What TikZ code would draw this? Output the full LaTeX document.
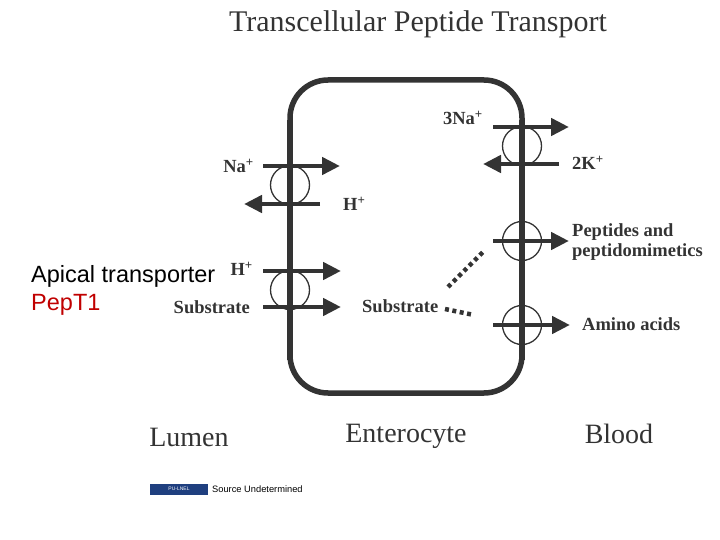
\documentclass[tikz,border=0pt]{standalone}
\usepackage{fontspec}
\setmainfont{Liberation Serif}
\newfontfamily\arialfont{Liberation Sans}
\usetikzlibrary{arrows.meta}
\definecolor{ink}{HTML}{333333}
\definecolor{pepred}{HTML}{C00000}
\definecolor{logoblue}{HTML}{1F3F7F}

\tikzset{
	memb/.style={draw=ink, line width=5.5pt},
	carrier/.style={draw=ink, circle, line width=1.3pt, minimum size=39pt, inner sep=0pt},
	flux/.style={draw=ink, line width=4.5pt, -{Triangle[length=18pt,width=17pt]}},
	lab/.style={text=ink, inner sep=0pt, font=\bfseries\fontsize{18.5}{20}\selectfont},
	region/.style={text=ink, inner sep=0pt, font=\fontsize{28}{30}\selectfont},
	trail/.style={draw=ink, line width=4.5pt, dash pattern=on 4pt off 3.5pt},
}

\begin{document}
\begin{tikzpicture}[x=1pt, y=-1pt]
		\useasboundingbox (0,0) rectangle (720,540);
		
		\node[region, font=\fontsize{30}{32}\selectfont] (title) at (418,24) {Transcellular Peptide Transport};
		
		% cell
		\draw[memb, rounded corners=38pt] (290,80) rectangle (522,393);
		
		% Na/H exchanger
		\node[carrier] (nhe) at (290,185) {};
		\coordinate (nheA) at (263,166);
		\coordinate (nheB) at (340,166);
		\coordinate (nheC) at (320,204);
		\coordinate (nheD) at (244,204);
		\node[lab, anchor=east] (na) at (254,166) {Na\textsuperscript{+}};
		\node[lab, anchor=west] (hout) at (343,204) {H\textsuperscript{+}};
		
		% PepT1
		\node[carrier] (pept) at (290,290) {};
		\coordinate (peptA) at (263,271);
		\coordinate (peptB) at (341,271);
		\coordinate (peptC) at (263,307);
		\coordinate (peptD) at (341,307);
		\node[lab, anchor=east] (hin) at (253,269) {H\textsuperscript{+}};
		\node[lab, anchor=east] (subin) at (250,307) {Substrate};
		\node[lab, anchor=west] (sub) at (362,306) {Substrate};
		
		% Na/K pump
		\node[carrier] (pump) at (522,146) {};
		\coordinate (pumpA) at (493,127);
		\coordinate (pumpB) at (569,127);
		\coordinate (pumpC) at (559,164);
		\coordinate (pumpD) at (483,164);
		\node[lab, anchor=east] (nak) at (483,118) {3Na\textsuperscript{+}};
		\node[lab, anchor=west] (kk) at (572,163) {2K\textsuperscript{+}};
		
		% basolateral exits
		\node[carrier] (pepb) at (522,241) {};
		\coordinate (pepbA) at (493,241);
		\coordinate (pepbB) at (569,241);
		\node[lab, anchor=west, align=left] (peps) at (572,242) {Peptides and\\peptidomimetics};
		
		\node[carrier] (amin) at (522,325) {};
		\coordinate (aminA) at (493,325);
		\coordinate (aminB) at (570,325);
		\node[lab, anchor=west] (aa) at (582,324) {Amino acids};
		
		\coordinate (subU) at (448,287);
		\coordinate (pepU) at (484,251);
		\coordinate (subL) at (445,309);
		\coordinate (aaL) at (474,315);
		
		\path []
		(nheA) edge[flux] (nheB)
		(nheC) edge[flux] (nheD)
		(peptA) edge[flux] (peptB)
		(peptC) edge[flux] (peptD)
		(pumpA) edge[flux] (pumpB)
		(pumpC) edge[flux] (pumpD)
		(pepbA) edge[flux] (pepbB)
		(aminA) edge[flux] (aminB)
		(subU) edge[trail] (pepU)
		(subL) edge[trail] (aaL);
		
		\draw[memb] (290,120) -- (290,360);
		\draw[memb] (522,120) -- (522,360);
		
		\node[region] (lumen) at (189,437) {Lumen};
		\node[region] (entero) at (406,436) {Enterocyte};
		\node[region] (blood) at (619,434) {Blood};
		
		\node[anchor=west, inner sep=0pt, font=\arialfont\fontsize{23.5}{25}\selectfont] (apical) at (31,276) {Apical transporter};
		\node[anchor=west, inner sep=0pt, text=pepred, font=\arialfont\fontsize{23.5}{25}\selectfont] (pep1) at (31,305) {PepT1};
		
		\node[fill=logoblue, minimum width=58pt, minimum height=11pt, inner sep=0pt, text=white, font=\arialfont\fontsize{5}{5}\selectfont] (logo) at (179,489) {PU-LNEL};
		\node[anchor=west, inner sep=0pt, font=\arialfont\fontsize{9.3}{10}\selectfont] (src) at (212,489) {Source Undetermined};
	\end{tikzpicture}
\end{document}
